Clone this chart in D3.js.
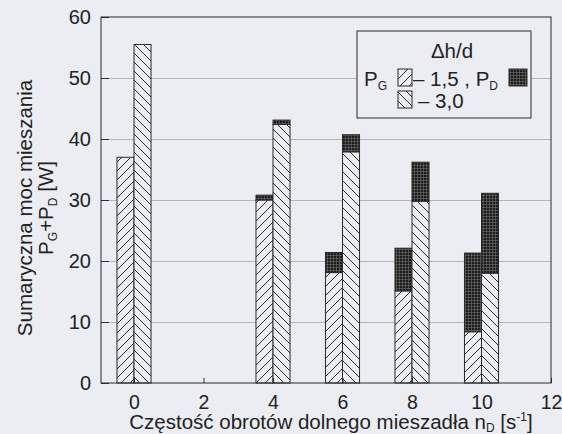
<!DOCTYPE html>
<html>
<head>
<meta charset="utf-8">
<script src="https://cdn.jsdelivr.net/npm/d3@7"></script>
<style>
  html, body { margin: 0; padding: 0; background: #ecedf3; }
  svg { display: block; font-family: "Liberation Sans", Arial, sans-serif; }
</style>
</head>
<body>
<div id="chart"></div>
<script>
// rotational speed of the lower stirrer [1/s]
var speeds = [0, 4, 6, 8, 10];
// dh/d = 1.5
var pg15 = [37.0, 30.0, 18.1, 15.1, 8.4];
var pd15 = [0.0, 0.8, 3.3, 7.0, 12.9];
// dh/d = 3.0
var pg30 = [55.5, 42.4, 37.9, 29.8, 18.0];
var pd30 = [0.0, 0.7, 2.8, 6.4, 13.1];

var xTicks = [0, 2, 4, 6, 8, 10, 12];
var yTicks = [0, 10, 20, 30, 40, 50, 60];

var W = 562, H = 434;
var bg = '#ecedf3';
var ink = '#2b2b2b';
var fs = 20.5;   // title / legend font size
var sub = 12;    // subscript size

var svg = d3.select('#chart').append('svg')
    .attr('width', W)
    .attr('height', H);

var x = d3.scaleLinear().domain([-0.95, 12]).range([101, 551]);
var y = d3.scaleLinear().domain([0, 60]).range([383, 17]);
var barW = x(0.49) - x(0);

// patterns
var defs = svg.append('defs');

function hatch(id, d) {
    var p = defs.append('pattern')
        .attr('id', id)
        .attr('patternUnits', 'userSpaceOnUse')
        .attr('width', 9).attr('height', 9);
    p.append('rect').attr('width', 9).attr('height', 9).attr('fill', bg);
    p.append('path').attr('d', d)
        .attr('stroke', ink).attr('stroke-width', 1).attr('fill', 'none');
}
hatch('h15', 'M0,9 L9,0 M-1,1 L1,-1 M8,10 L10,8');
hatch('h30', 'M0,0 L9,9 M-1,8 L1,10 M8,-1 L10,1');

var dark = defs.append('pattern')
    .attr('id', 'pd')
    .attr('patternUnits', 'userSpaceOnUse')
    .attr('width', 3).attr('height', 3);
dark.append('rect').attr('width', 3).attr('height', 3).attr('fill', '#1c1c1c');
dark.append('path').attr('d', 'M0,0.5 H3 M0.5,0 V3')
    .attr('stroke', '#707070').attr('stroke-width', 0.6);

// grid
svg.append('g')
    .selectAll('line')
    .data(yTicks.slice(1, -1))
    .join('line')
    .attr('x1', x.range()[0]).attr('x2', x.range()[1])
    .attr('y1', function (d) { return y(d) + 0.5; })
    .attr('y2', function (d) { return y(d) + 0.5; })
    .attr('stroke', '#a4a4a8')
    .attr('stroke-width', 0.8);

// bars
var rows = [];
speeds.forEach(function (s, i) {
    rows.push({ x0: x(s) - barW, pg: pg15[i], pd: pd15[i], pat: 'url(#h15)' });
    rows.push({ x0: x(s), pg: pg30[i], pd: pd30[i], pat: 'url(#h30)' });
});

var bars = svg.append('g');
rows.forEach(function (r) {
    bars.append('rect')
        .attr('x', r.x0).attr('width', barW)
        .attr('y', y(r.pg)).attr('height', y(0) - y(r.pg))
        .attr('fill', r.pat).attr('stroke', ink).attr('stroke-width', 1);
    if (r.pd > 0) {
        bars.append('rect')
            .attr('x', r.x0).attr('width', barW)
            .attr('y', y(r.pg + r.pd)).attr('height', y(r.pg) - y(r.pg + r.pd))
            .attr('fill', 'url(#pd)').attr('stroke', ink).attr('stroke-width', 1);
    }
});

// axes
var axisL = d3.axisLeft(y).tickValues(yTicks).tickSize(-8).tickPadding(10);
var axisB = d3.axisBottom(x).tickValues(xTicks).tickSize(-5).tickPadding(12);

var gy = svg.append('g').attr('transform', 'translate(' + x.range()[0] + ',0)').call(axisL);
var gx = svg.append('g').attr('transform', 'translate(0,' + y(0) + ')').call(axisB);
[gx, gy].forEach(function (g) {
    g.select('.domain').remove();
    g.selectAll('line').attr('stroke', ink);
    g.selectAll('text').attr('font-size', 20).attr('fill', '#222')
        .attr('font-family', '"Liberation Sans", Arial, sans-serif');
});
gx.selectAll('text').attr('font-size', 19.5);

// frame
svg.append('rect')
    .attr('x', x.range()[0]).attr('y', y.range()[1])
    .attr('width', x.range()[1] - x.range()[0])
    .attr('height', y.range()[0] - y.range()[1])
    .attr('fill', 'none').attr('stroke', ink).attr('stroke-width', 1);

// axis titles
var xt = svg.append('text')
    .attr('x', 331).attr('y', 428.5)
    .attr('text-anchor', 'middle')
    .attr('font-size', fs).attr('fill', '#222');
xt.append('tspan').text('Częstość obrotów dolnego mieszadła n');
xt.append('tspan').attr('font-size', sub).attr('dy', 3).text('D');
xt.append('tspan').attr('dy', -3).text(' [s');
xt.append('tspan').attr('font-size', sub).attr('dy', -8).text('-1');
xt.append('tspan').attr('dy', 8).text(']');

var yt = svg.append('g').attr('transform', 'translate(0,208) rotate(-90)');
yt.append('text')
    .attr('x', 0).attr('y', 32)
    .attr('text-anchor', 'middle')
    .attr('font-size', fs).attr('fill', '#222')
    .text('Sumaryczna moc mieszania');
var yt2 = yt.append('text')
    .attr('x', 0).attr('y', 53)
    .attr('text-anchor', 'middle')
    .attr('font-size', fs).attr('fill', '#222');
yt2.append('tspan').text('P');
yt2.append('tspan').attr('font-size', sub).attr('dy', 4).text('G');
yt2.append('tspan').attr('dy', -4).text('+P');
yt2.append('tspan').attr('font-size', sub).attr('dy', 4).text('D');
yt2.append('tspan').attr('dy', -4).text(' [W]');

// legend
var lg = svg.append('g');
lg.append('rect')
    .attr('x', 357).attr('y', 31).attr('width', 174).attr('height', 87)
    .attr('fill', bg).attr('stroke', ink).attr('stroke-width', 1);
lg.append('text')
    .attr('x', 452).attr('y', 58).attr('text-anchor', 'middle')
    .attr('font-size', fs).attr('fill', '#222').text('Δh/d');
var pg = lg.append('text').attr('x', 364).attr('y', 86)
    .attr('font-size', fs).attr('fill', '#222');
pg.append('tspan').text('P');
pg.append('tspan').attr('font-size', sub).attr('dy', 4).text('G');
lg.append('rect').attr('x', 398).attr('y', 69).attr('width', 14).attr('height', 17)
    .attr('fill', 'url(#h15)').attr('stroke', ink);
var l1 = lg.append('text').attr('x', 413).attr('y', 86)
    .attr('font-size', fs).attr('fill', '#222');
l1.append('tspan').text('– 1,5 , P');
l1.append('tspan').attr('font-size', sub).attr('dy', 4).text('D');
lg.append('rect').attr('x', 509).attr('y', 69).attr('width', 18).attr('height', 17)
    .attr('fill', 'url(#pd)').attr('stroke', ink);
lg.append('rect').attr('x', 398).attr('y', 91).attr('width', 14).attr('height', 17)
    .attr('fill', 'url(#h30)').attr('stroke', ink);
lg.append('text').attr('x', 418).attr('y', 108)
    .attr('font-size', fs).attr('fill', '#222').text('– 3,0');
</script>
</body>
</html>
